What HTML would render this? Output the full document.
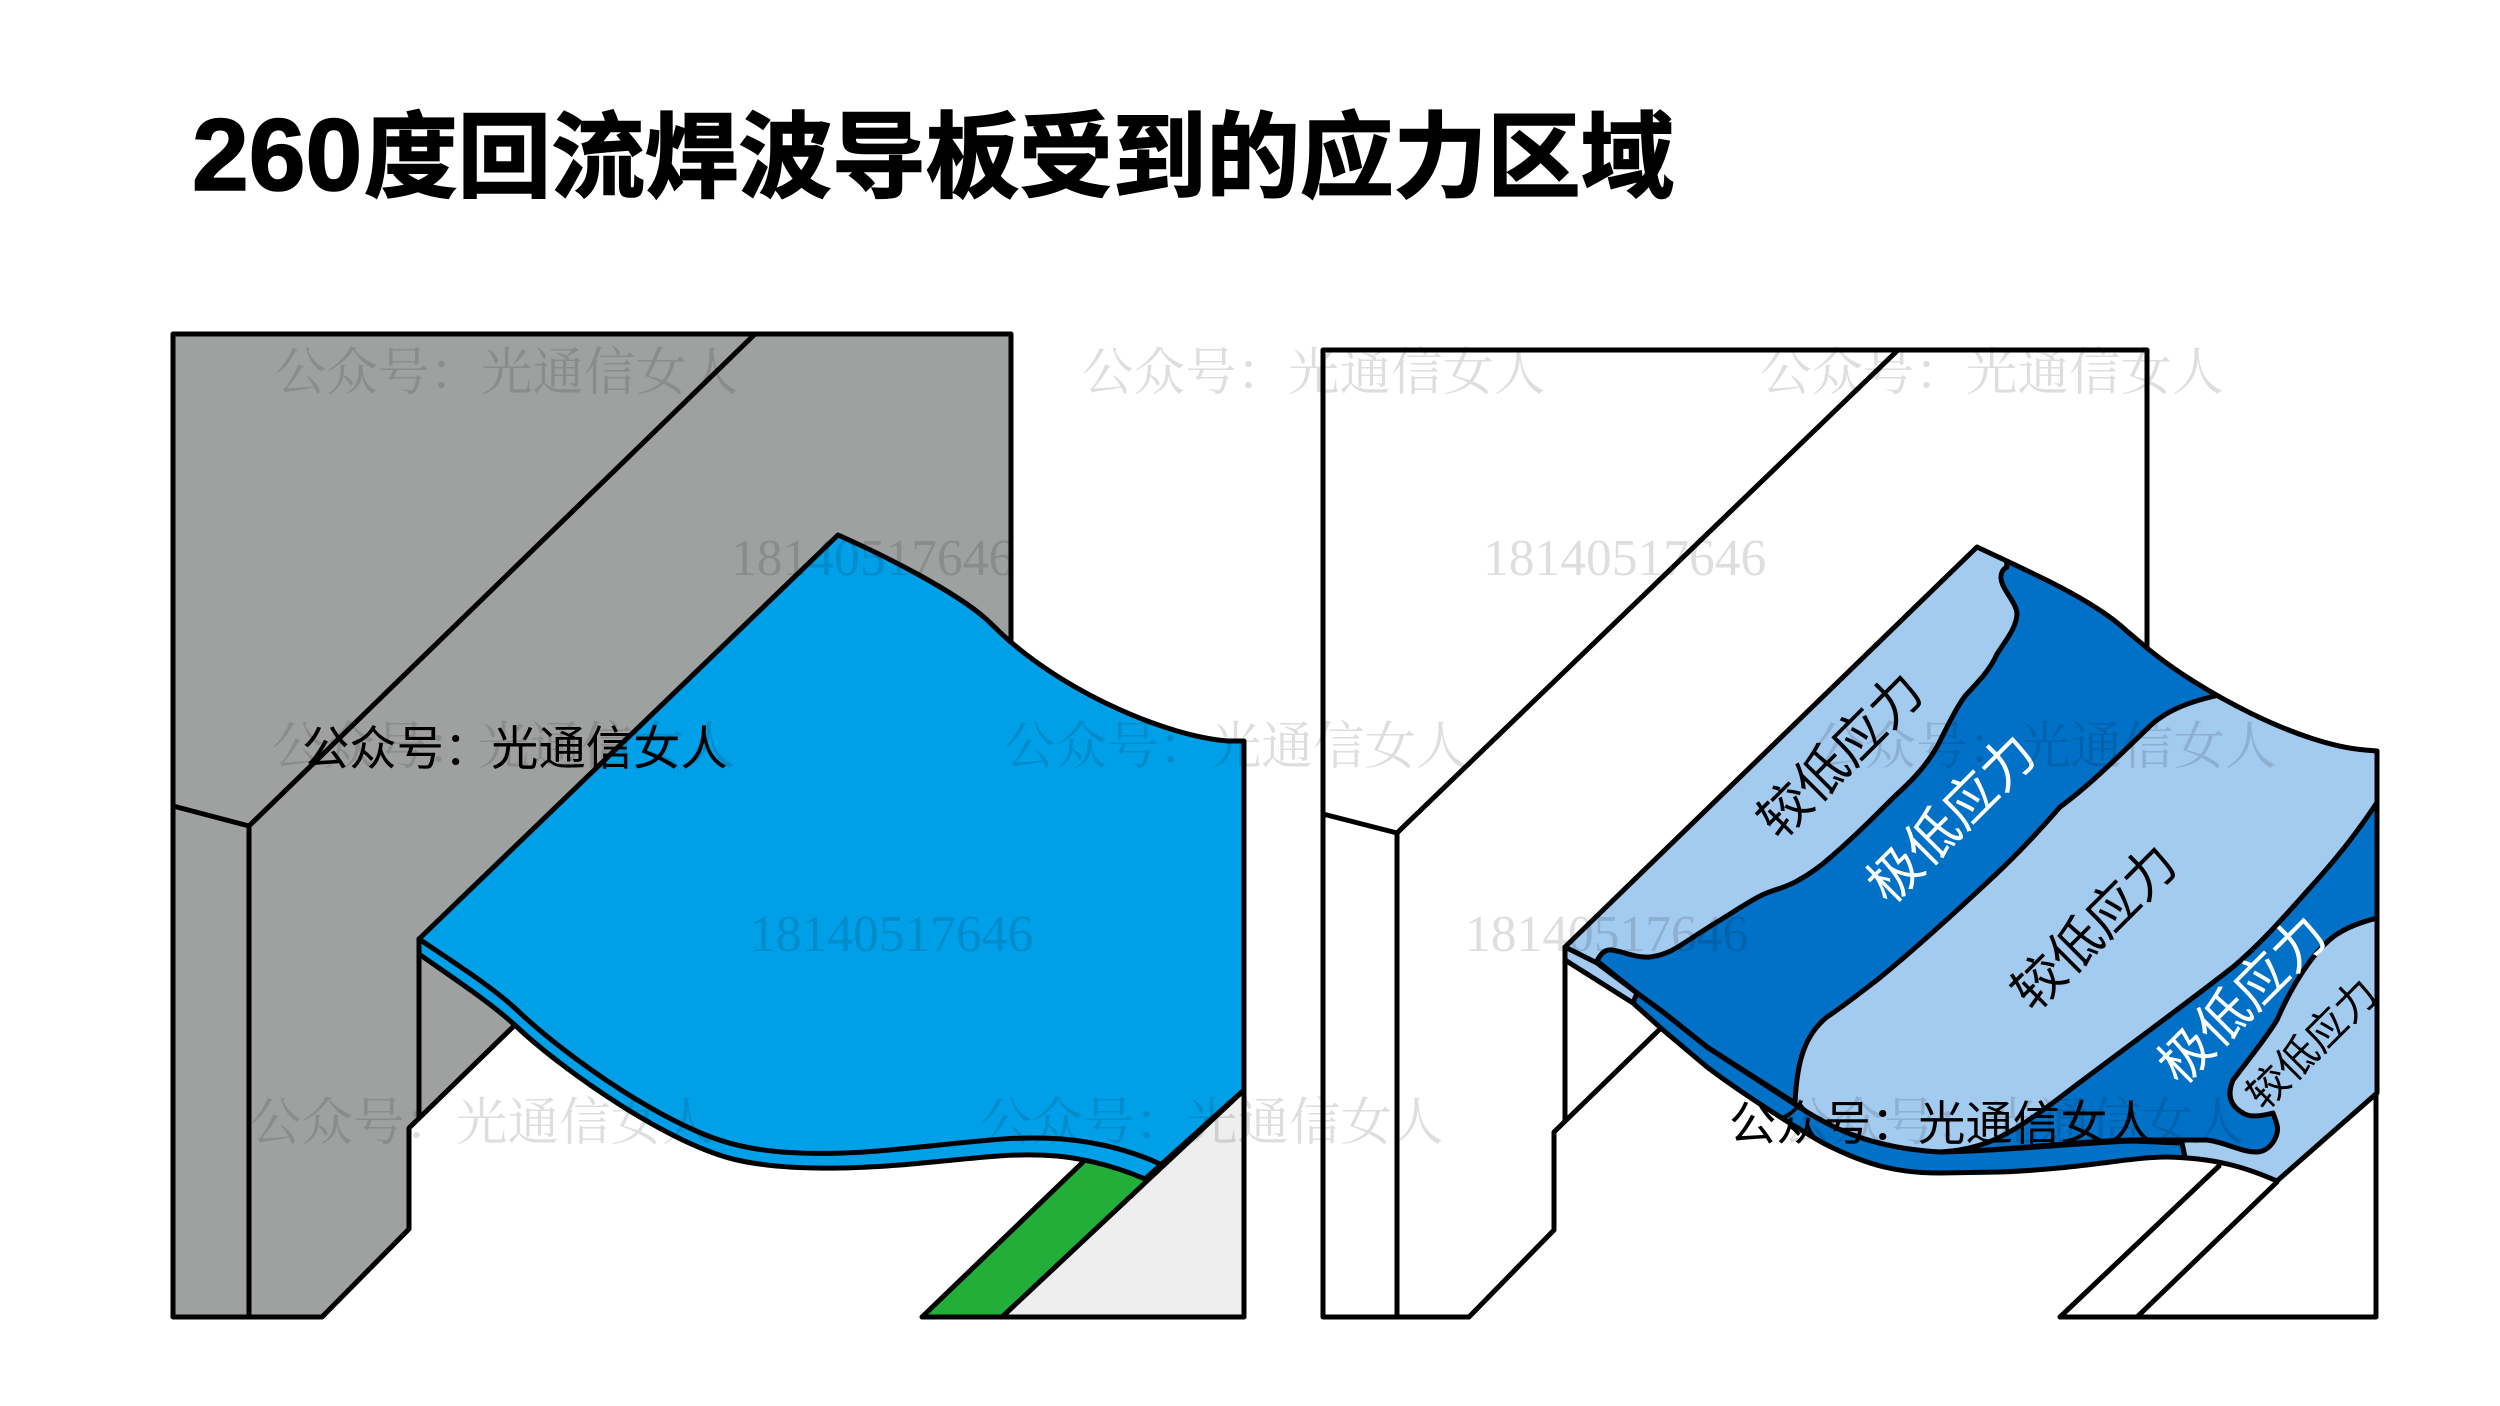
<!DOCTYPE html>
<html><head><meta charset="utf-8"><style>
html,body{margin:0;padding:0;background:#fff;width:2500px;height:1406px;overflow:hidden}
svg{display:block}
.s{stroke:#000;stroke-width:5;stroke-linejoin:round;stroke-linecap:round;fill:none}
.wm{font-family:"Liberation Serif","Noto Serif CJK SC",serif;font-size:51.5px;fill:#000;fill-opacity:.13}
.bk{font-family:"Liberation Sans","Noto Sans CJK SC",sans-serif;font-size:47.3px;fill:#000}
.r{font-family:"Liberation Sans","Noto Sans CJK SC",sans-serif;text-anchor:middle;dominant-baseline:central}
.t{font-family:"Liberation Sans","Noto Sans CJK SC",sans-serif;font-weight:700;fill:#000;stroke:#000;stroke-width:1.6}
</style></head><body>
<svg width="2500" height="1406" viewBox="0 0 2500 1406" xmlns="http://www.w3.org/2000/svg">
<defs>
<clipPath id="surf"><path d="M1977,547 C2030,572 2085,596 2120,625 C2130,634 2140,642 2147,648 C2200,692 2300,745 2365,750 L2377,751 L2377,1093 L2277,1181 C2245,1167 2215,1158 2167,1157 C2130,1157 2080,1169 2000,1172 L1940,1173 C1900,1173 1870,1167 1823,1143 C1790,1124 1740,1092 1707,1067 L1663,1030 L1633,1003 L1565,960 L1565,947 Z"/></clipPath>
</defs>
<text class="t" x="192" y="190" font-size="102">260</text>
<text class="t" x="364" y="190" font-size="93.6">度回流焊波导板受到的应力区域</text>

<!-- left diagram -->
<path d="M173,334 L1011,334 L1011,645 L517,1023 L409,1128 L409,1229 L322,1317 L173,1317 Z" fill="#9fa0a0"/>
<path class="s" d="M1011,650 L1011,334 L173,334 L173,1317 L322,1317 L409,1229 L409,1128 L517,1023"/>
<path class="s" d="M755,334 L249,826 L173,806 M249,826 L249,1317 M419,939 L419,1118"/>
<path d="M1002,1317 L1243,1090 L1244,1317 Z" fill="#eeeeee"/>
<path d="M922,1317 L1083,1162 C1105,1165 1125,1172 1145,1180 L1002,1317 Z" fill="#22ae39"/>
<path class="s" d="M922,1317 L1244,1317 L1244,1090 L1002,1317 M922,1317 L1083,1162"/>
<path class="s" style="fill:#00a0e9" d="M838,535 C890,558 955,592 985,618 C995,627 1002,635 1012,643 C1070,693 1165,736 1228,741 L1244,741 L1244,1090 L1145,1179 C1115,1166 1075,1155 1035,1155 C1000,1154 960,1160 900,1165 C860,1168 790,1172 737,1160 C670,1145 565,1072 517,1027 C490,1002 450,976 419,954 L419,939 Z"/>
<path class="s" d="M419,939 C450,960 490,985 517,1010 C565,1056 670,1130 737,1145 C790,1158 860,1153 900,1149 C960,1143 1000,1138 1030,1138 C1085,1137 1130,1150 1160,1164"/>

<!-- right diagram frame -->
<path class="s" d="M2147,650 L2147,350 L1323,350 L1323,1317 L1469,1317 L1554,1230 L1554,1132 L1660,1029"/>
<path class="s" d="M1898,350 L1397,833 L1323,814 M1397,833 L1397,1317 M1565,947 L1565,1121"/>
<path class="s" d="M2060,1317 L2219,1166 M2137,1317 L2277,1182 M2060,1317 L2376,1317 L2376,1093"/>

<!-- surface -->
<path d="M1977,547 C2030,572 2085,596 2120,625 C2130,634 2140,642 2147,648 C2200,692 2300,745 2365,750 L2377,751 L2377,1093 L2277,1181 C2245,1167 2215,1158 2167,1157 C2130,1157 2080,1169 2000,1172 L1940,1173 C1900,1173 1870,1167 1823,1143 C1790,1124 1740,1092 1707,1067 L1663,1030 L1633,1003 L1565,960 L1565,947 Z" fill="#a3caef"/>
<g clip-path="url(#surf)">
<path class="s" style="fill:#0071c7" d="M1597,961 C1600,955 1604,949 1612,950 C1625,952 1635,958 1650,957 C1660,956 1668,953 1678,947 C1695,936 1710,926 1722,919 C1735,911 1748,902 1762,895 C1775,889 1785,888 1797,881 C1812,873 1822,865 1832,856 C1855,836 1875,816 1895,796 C1915,778 1928,763 1938,745 C1947,727 1955,710 1965,696 C1978,682 1990,670 1997,654 C2006,640 2017,627 2017,613 C2015,600 2002,590 2001,578 C2001,572 2003,569 2007,567 L2006,555 L2100,570 L2230,690 L2215,696 C2185,703 2165,712 2150,726 C2120,755 2090,785 2060,807 C2040,830 2020,852 1993,877 C1960,908 1920,945 1877,980 C1860,993 1845,1005 1827,1017 C1805,1035 1797,1060 1795,1103 L1707,1047 L1663,1012 L1637,993 Z"/>
<path class="s" style="fill:#0071c7" d="M2385,790 C2360,830 2335,860 2317,880 C2290,910 2265,940 2233,967 C2200,993 2130,1045 2083,1080 C2060,1097 2030,1122 2000,1137 C1980,1147 1960,1151 1940,1152 C1990,1152 2090,1140 2133,1140 L2207,1140 C2225,1142 2240,1152 2257,1152 C2270,1152 2280,1135 2277,1125 C2275,1118 2273,1113 2273,1113 C2262,1116 2250,1118 2243,1113 C2232,1107 2226,1097 2233,1080 C2250,1058 2268,1035 2277,1020 C2290,990 2310,955 2333,937 C2345,928 2360,922 2385,916 Z"/>
<path class="s" style="fill:#0071c7" d="M1633,1003 L1637,993 L1663,1012 L1707,1047 L1793,1103 C1830,1128 1870,1148 1940,1152 C1990,1152 2090,1142 2133,1141 L2182,1143 L2185,1157 L2185,1180 L1900,1205 L1650,1055 Z"/>
</g>
<path class="s" d="M1977,547 C2030,572 2085,596 2120,625 C2130,634 2140,642 2147,648 C2200,692 2300,745 2365,750 L2377,751 L2377,1093 L2277,1181 C2245,1167 2215,1158 2167,1157 C2130,1157 2080,1169 2000,1172 L1940,1173 C1900,1173 1870,1167 1823,1143 C1790,1124 1740,1092 1707,1067 L1663,1030 L1633,1003 L1565,960 L1565,947 Z"/>
<path class="s" d="M1565,947 L1597,963 L1637,993 L1663,1012 L1707,1047 L1793,1103"/>

<!-- rotated labels -->
<text class="r" font-size="52" fill="#000" transform="translate(1841,756) rotate(-45)">较低应力</text>
<text class="r" font-size="53" fill="#fff" transform="translate(1952,819) rotate(-45)">极低应力</text>
<text class="r" font-size="52" fill="#000" transform="translate(2095,928) rotate(-45)">较低应力</text>
<text class="r" font-size="53" fill="#fff" transform="translate(2243,1000) rotate(-45)">极低应力</text>
<text class="r" font-size="41" fill="#000" transform="translate(2312,1044) rotate(-45)">较低应力</text>

<!-- black labels -->
<text class="bk" x="302" y="765">公众号：光通信女人</text>
<text class="bk" x="1729" y="1140">公众号：光通信女人</text>

<!-- watermarks -->
<text class="wm" x="275" y="390">公众号：光通信女人</text>
<text class="wm" x="1082" y="390">公众号：光通信女人</text>
<text class="wm" x="1760" y="390">公众号：光通信女人</text>
<text class="wm" x="731" y="575">18140517646</text>
<text class="wm" x="1483" y="575">18140517646</text>
<text class="wm" x="272" y="764">公众号：光通信女人</text>
<text class="wm" x="1004" y="764">公众号：光通信女人</text>
<text class="wm" x="1813" y="764">公众号：光通信女人</text>
<text class="wm" x="750" y="951">18140517646</text>
<text class="wm" x="1465" y="951">18140517646</text>
<text class="wm" x="250" y="1140">公众号：光通信女人</text>
<text class="wm" x="980" y="1140">公众号：光通信女人</text>
<text class="wm" x="1781" y="1140">公众号：光通信女人</text>
</svg>
</body></html>
